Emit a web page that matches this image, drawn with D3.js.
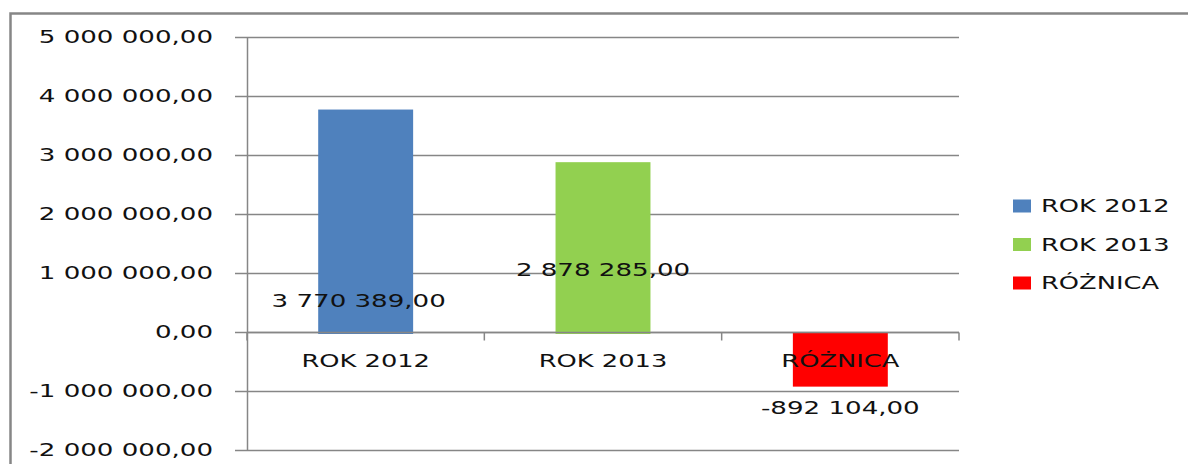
<!DOCTYPE html>
<html>
<head>
<meta charset="utf-8">
<script src="https://cdn.jsdelivr.net/npm/d3@7"></script>
<style>
  body { margin: 0; background: #fff; }
  text { font-family: "DejaVu Sans", Verdana, sans-serif; font-size: 18px; fill: #111; }
</style>
</head>
<body>
<div id="container"></div>
<script>
/* DATA */
const categories = ["ROK 2012", "ROK 2013", "RÓŻNICA"];
const values = [3770389, 2878285, -892104];
const colors = ["#4F81BD", "#92D050", "#FF0000"];
const yTicks = [-2000000, -1000000, 0, 1000000, 2000000, 3000000, 4000000, 5000000];

/* CONSTANTS */
const width = 1188, height = 464;
const plot = { left: 247, right: 959, top: 37, bottom: 450 };
const numStretch = 1.45, wordStretch = 1.43;  // source picture is stretched sideways
const gridColor = "#868686";

const pl = d3.formatLocale({ decimal: ",", thousands: " ", grouping: [3], currency: ["", ""], minus: "-" });
const fmt = pl.format(",.2f");

const svg = d3.select("#container").append("svg")
  .attr("width", width).attr("height", height);

// outer chart border (only top and left visible)
svg.append("rect")
  .attr("x", 10.5).attr("y", 13.5)
  .attr("width", 1300).attr("height", 600)
  .attr("fill", "none").attr("stroke", gridColor).attr("stroke-width", 2.5);

/* SCALES */
const yScale = d3.scaleLinear().domain([-2000000, 5000000]).range([plot.bottom, plot.top]);
const xScale = d3.scaleBand().domain(categories).range([plot.left, plot.right])
  .paddingInner(0.6).paddingOuter(0.3);
const xStep = d3.scaleBand().domain(categories).range([plot.left, plot.right]);

/* GRID + Y AXIS */
svg.selectAll(".grid").data(yTicks).join("line")
  .attr("class", "grid")
  .attr("x1", plot.left - 12).attr("x2", plot.right)
  .attr("y1", d => Math.round(yScale(d)) + 0.5).attr("y2", d => Math.round(yScale(d)) + 0.5)
  .attr("stroke", gridColor).attr("stroke-width", 1.3);

svg.append("line")
  .attr("x1", plot.left + 0.5).attr("x2", plot.left + 0.5)
  .attr("y1", plot.top).attr("y2", plot.bottom)
  .attr("stroke", gridColor).attr("stroke-width", 1.5);

svg.selectAll(".ylab").data(yTicks).join("text")
  .attr("class", "ylab")
  .attr("text-anchor", "end")
  .attr("dy", "0.36em")
  .attr("transform", d => `translate(${plot.left - 34},${yScale(d)}) scale(${numStretch},1)`)
  .text(d => fmt(d));

/* BARS */
svg.selectAll(".bar").data(values).join("rect")
  .attr("class", "bar")
  .attr("x", (d, i) => xScale(categories[i]))
  .attr("width", xScale.bandwidth())
  .attr("y", d => yScale(Math.max(0, d)))
  .attr("height", d => Math.abs(yScale(d) - yScale(0)) + 2)
  .attr("fill", (d, i) => colors[i]);

/* X AXIS (at zero) */
const y0 = Math.round(yScale(0)) + 0.5;
svg.append("line")
  .attr("x1", plot.left).attr("x2", plot.right)
  .attr("y1", y0).attr("y2", y0)
  .attr("stroke", gridColor).attr("stroke-width", 1.5);

const bounds = categories.map(c => xStep(c)).concat([plot.right]);
svg.selectAll(".xtick").data(bounds).join("line")
  .attr("class", "xtick")
  .attr("x1", d => d).attr("x2", d => d)
  .attr("y1", y0).attr("y2", y0 + 8)
  .attr("stroke", gridColor).attr("stroke-width", 1.5);

svg.selectAll(".xlab").data(categories).join("text")
  .attr("class", "xlab")
  .attr("text-anchor", "middle")
  .attr("transform", d => `translate(${xStep(d) + xStep.bandwidth() / 2},${y0 + 34}) scale(${wordStretch},1)`)
  .text(d => d);

/* VALUE LABELS */
const labelY = [301, 270, 408];
svg.selectAll(".vlab").data(values).join("text")
  .attr("class", "vlab")
  .attr("text-anchor", "middle")
  .attr("dy", "0.36em")
  .attr("transform", (d, i) => `translate(${xScale(categories[i]) + xScale.bandwidth() / 2 - (i === 0 ? 7 : 0)},${labelY[i]}) scale(${numStretch},1)`)
  .text(d => fmt(d));

/* LEGEND */
const legend = svg.selectAll(".leg").data(categories).join("g")
  .attr("class", "leg")
  .attr("transform", (d, i) => `translate(1013,${206 + i * 38.5})`);
legend.append("rect")
  .attr("x", 0).attr("y", -6.5).attr("width", 18).attr("height", 13)
  .attr("fill", (d, i) => colors[i]);
legend.append("text")
  .attr("dy", "0.36em")
  .attr("transform", `translate(28,0) scale(${wordStretch},1)`)
  .text(d => d);
</script>
</body>
</html>
